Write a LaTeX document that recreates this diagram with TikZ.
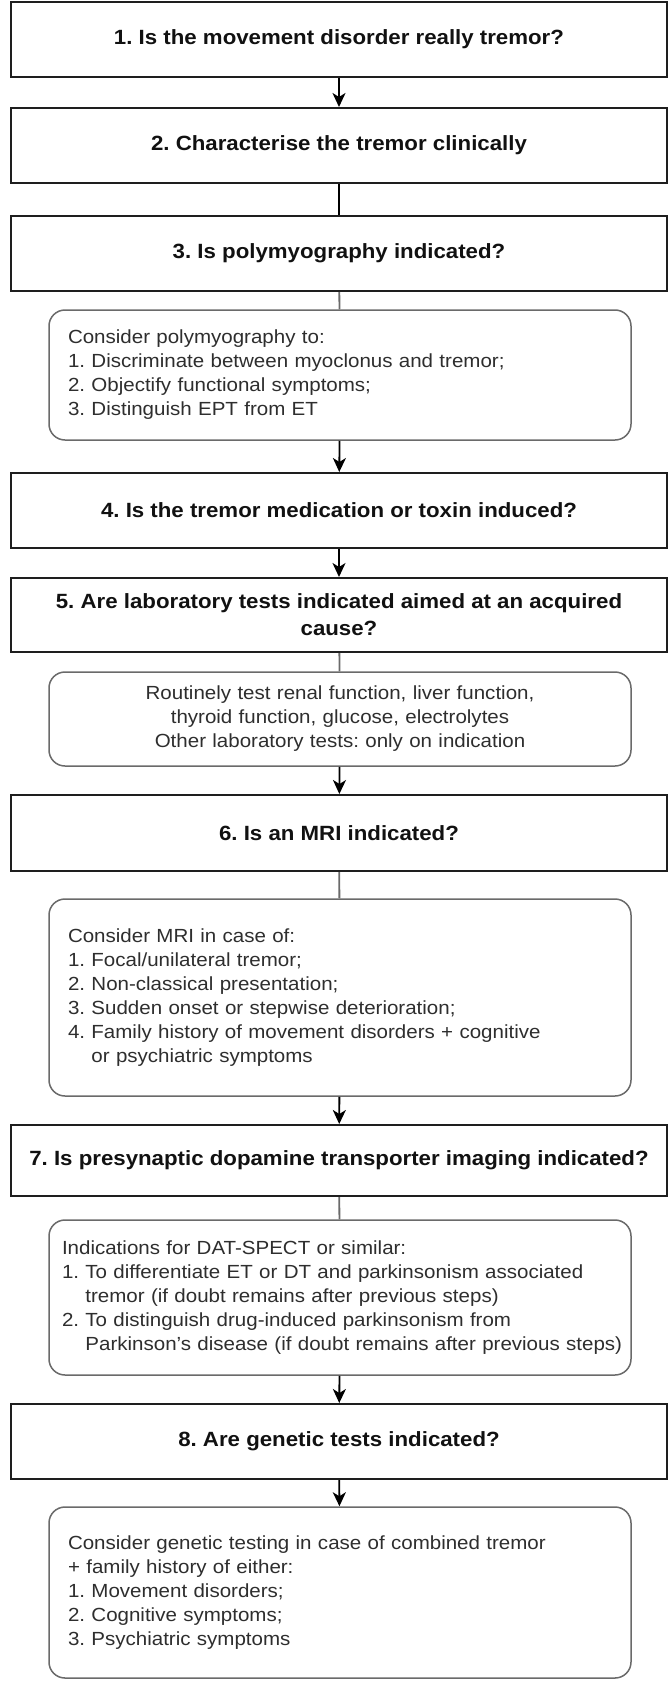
\documentclass[tikz,border=0pt]{standalone}
\usepackage{fontspec}
\setmainfont{Liberation Sans}[FakeStretch=1.08]
\usetikzlibrary{arrows.meta}
\frenchspacing
\definecolor{boxline}{HTML}{1E1E1E}
\definecolor{softline}{HTML}{6A6A6A}
\definecolor{headtext}{HTML}{111111}
\definecolor{bodytext}{HTML}{2E2E2E}
\tikzset{
  mainbox/.style={draw=boxline, line width=2pt, fill=white, rectangle,
    minimum width=656pt, inner sep=0pt, align=center, text=headtext,
    font=\frenchspacing\fontsize{20.6}{27}\selectfont\bfseries},
  infobox/.style={draw=softline, line width=1.5pt, fill=white, rectangle,
    rounded corners=16pt, inner ysep=0pt, text=bodytext,
    font=\frenchspacing\fontsize{19}{24}\selectfont},
  arr/.style={draw=black, line width=1.8pt, -{Stealth[length=14pt,width=13pt,inset=4pt]}},
  plainline/.style={draw=softline, line width=1.8pt},
  darkline/.style={draw=black, line width=1.8pt}
}
\begin{document}
\begin{tikzpicture}[x=1pt,y=-1pt]
\path[use as bounding box, fill=white] (0,0) rectangle (669,1683);

\node[mainbox, minimum height=75pt] (b1) at (339,39.5) {1. Is the movement disorder really tremor?};
\node[mainbox, minimum height=75pt] (b2) at (339,145.5) {2. Characterise the tremor clinically};
\node[mainbox, minimum height=75pt] (b3) at (339,253.5) {3. Is polymyography indicated?};

\node[infobox, inner xsep=19pt, text width=544pt, minimum height=130pt, align=left] (ra) at (340,375)
  {Consider polymyography to:\\
   1. Discriminate between myoclonus and tremor;\\
   2. Objectify functional symptoms;\\
   3. Distinguish EPT from ET};

\node[mainbox, minimum height=75pt] (b4) at (339,510.5) {4. Is the tremor medication or toxin induced?};
\node[mainbox, minimum height=74pt] (b5) at (339,615) {5. Are laboratory tests indicated aimed at an acquired\\cause?};

\node[infobox, inner xsep=19pt, text width=544pt, minimum height=94pt, align=center] (rb) at (340,719)
  {Routinely test renal function, liver function,\\
   thyroid function, glucose, electrolytes\\
   Other laboratory tests: only on indication};

\node[mainbox, minimum height=76pt] (b6) at (339,833) {6. Is an MRI indicated?};

\node[infobox, inner xsep=19pt, text width=544pt, minimum height=197pt, align=left] (rc) at (340,997.5)
  {Consider MRI in case of:\\
   1. Focal/unilateral tremor;\\
   2. Non-classical presentation;\\
   3. Sudden onset or stepwise deterioration;\\
   4. Family history of movement disorders + cognitive\\
   \hphantom{4.~}or psychiatric symptoms};

\node[mainbox, minimum height=71pt] (b7) at (339,1160.5) {7. Is presynaptic dopamine transporter imaging indicated?};

\node[infobox, inner xsep=13pt, text width=556pt, minimum height=155pt, align=left] (rd) at (340,1297.5)
  {Indications for DAT-SPECT or similar:\\
   1. To differentiate ET or DT and parkinsonism associated\\
   \hphantom{1.~}tremor (if doubt remains after previous steps)\\
   2. To distinguish drug-induced parkinsonism from\\
   \mbox{\hphantom{2.~}Parkinson's disease (if doubt remains after previous steps)}};

\node[mainbox, minimum height=75pt] (b8) at (339,1441.5) {8. Are genetic tests indicated?};

\node[infobox, inner xsep=19pt, text width=544pt, minimum height=171pt, align=left] (re) at (340,1592.5)
  {Consider genetic testing in case of combined tremor\\
   + family history of either:\\
   1. Movement disorders;\\
   2. Cognitive symptoms;\\
   3. Psychiatric symptoms};

\draw[arr] (b1) -- (b2);
\draw[darkline] (b2) -- (b3);
\draw[plainline] (b3) -- (ra);
\draw[arr] (ra) -- (b4);
\draw[arr] (b4) -- (b5);
\draw[plainline] (b5) -- (rb);
\draw[arr] (rb) -- (b6);
\draw[plainline] (b6) -- (rc);
\draw[arr] (rc) -- (b7);
\draw[plainline] (b7) -- (rd);
\draw[arr] (rd) -- (b8);
\draw[arr] (b8) -- (re);
\end{tikzpicture}
\end{document}
